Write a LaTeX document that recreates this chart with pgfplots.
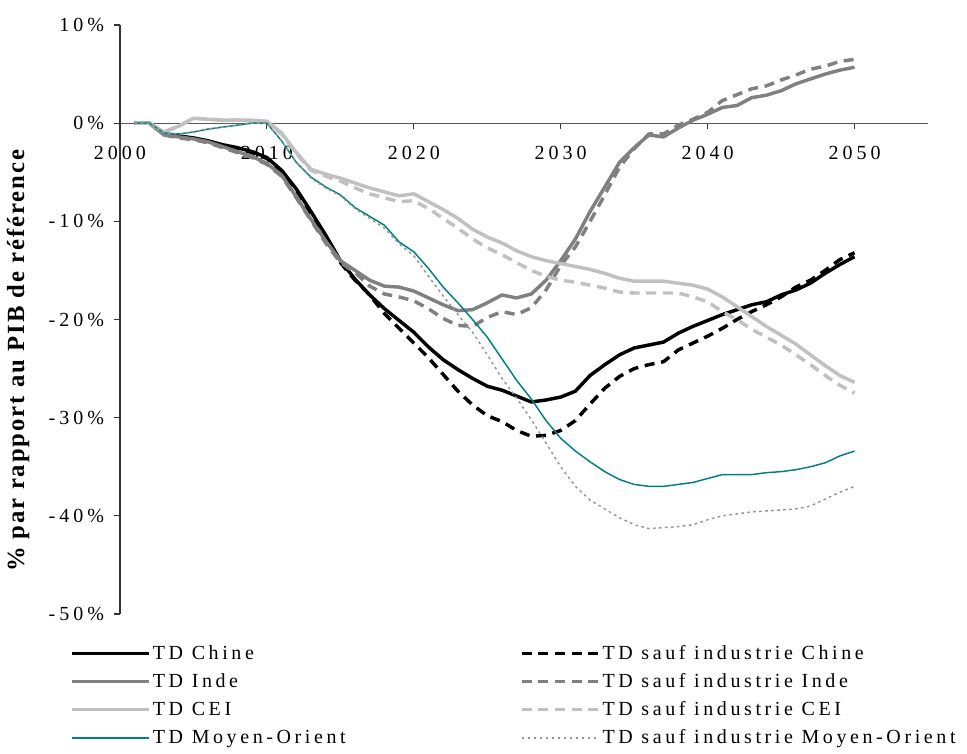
\documentclass[border=0pt]{standalone}
\usepackage{pgfplots}
\pgfplotsset{compat=1.18}
\usepackage{pgfplotstable}
\usepackage{fontspec}
\setmainfont{Liberation Serif}
\newfontfamily\tickfont[LetterSpace=20]{Liberation Serif}
\newfontfamily\legfont[LetterSpace=18]{Liberation Serif}
\newfontfamily\labfont[LetterSpace=8]{Liberation Serif}
\definecolor{cChine}{RGB}{0,0,0}
\definecolor{cInde}{RGB}{128,128,128}
\definecolor{cCEI}{RGB}{192,192,192}
\definecolor{cMO}{RGB}{0,128,128}
\definecolor{cMOs}{RGB}{150,150,150}
\pgfplotstableread{
year chine chineS inde indeS cei ceiS mo moS
2001 0 0 0 0 0 0 0 0
2002 0 0 0 0 0 0 0 0
2003 -1.1 -1.1 -1.2 -1.2 -0.9 -0.9 -1.0 -1.0
2004 -1.3 -1.4 -1.4 -1.5 -0.3 -0.3 -1.1 -1.1
2005 -1.5 -1.6 -1.6 -1.7 0.5 0.5 -0.9 -0.9
2006 -1.8 -1.9 -1.9 -2.0 0.4 0.4 -0.6 -0.6
2007 -2.2 -2.3 -2.4 -2.5 0.3 0.3 -0.4 -0.4
2008 -2.5 -2.6 -2.9 -3.0 0.3 0.3 -0.2 -0.2
2009 -2.9 -3.0 -3.4 -3.5 0.3 0.2 0.0 0.0
2010 -3.5 -3.6 -4.1 -4.2 0.2 0.1 0.0 0.0
2011 -4.8 -4.9 -5.3 -5.4 -1.0 -1.1 -1.8 -1.8
2012 -6.7 -6.8 -7.5 -7.6 -3.0 -3.1 -4.0 -4.0
2013 -9.0 -9.2 -9.8 -9.9 -4.7 -4.8 -5.5 -5.6
2014 -11.4 -11.6 -12.0 -12.2 -5.2 -5.4 -6.5 -6.6
2015 -14.0 -14.2 -14.0 -14.2 -5.6 -5.9 -7.3 -7.4
2016 -15.9 -16.0 -15.0 -15.2 -6.1 -6.6 -8.6 -8.7
2017 -17.5 -17.5 -16.0 -16.6 -6.6 -7.2 -9.5 -9.7
2018 -18.9 -19.4 -16.6 -17.4 -7.0 -7.6 -10.4 -10.7
2019 -20.1 -20.9 -16.7 -17.7 -7.4 -8.0 -12.1 -12.3
2020 -21.3 -22.4 -17.1 -18.1 -7.2 -7.9 -13.1 -13.5
2021 -22.8 -23.9 -17.8 -18.9 -8.0 -8.7 -14.8 -15.6
2022 -24.1 -25.6 -18.5 -19.9 -8.8 -9.7 -16.7 -17.6
2023 -25.1 -27.3 -19.1 -20.6 -9.7 -10.7 -18.3 -19.5
2024 -26.0 -28.7 -19.0 -20.7 -10.8 -11.8 -20.0 -21.3
2025 -26.8 -29.8 -18.3 -19.8 -11.6 -12.7 -21.8 -23.6
2026 -27.2 -30.4 -17.5 -19.2 -12.2 -13.4 -24.0 -26.0
2027 -27.8 -31.3 -17.8 -19.5 -13.0 -14.2 -26.2 -28.0
2028 -28.4 -31.9 -17.4 -18.8 -13.6 -15.0 -28.1 -30.2
2029 -28.2 -31.8 -16.0 -17.0 -14.0 -15.6 -30.3 -32.6
2030 -27.9 -31.3 -14.0 -14.5 -14.3 -16.0 -32.1 -35.0
2031 -27.3 -30.3 -11.8 -12.6 -14.6 -16.2 -33.4 -37.0
2032 -25.7 -28.6 -9.0 -10.0 -14.9 -16.5 -34.5 -38.4
2033 -24.6 -27.0 -6.5 -7.3 -15.3 -16.8 -35.5 -39.3
2034 -23.6 -25.8 -4.0 -4.5 -15.8 -17.2 -36.3 -40.2
2035 -22.9 -25.0 -2.5 -2.6 -16.1 -17.3 -36.8 -40.9
2036 -22.6 -24.6 -1.2 -1.1 -16.1 -17.3 -37.0 -41.3
2037 -22.3 -24.3 -1.4 -1.1 -16.1 -17.3 -37.0 -41.2
2038 -21.4 -23.1 -0.5 -0.2 -16.3 -17.3 -36.8 -41.1
2039 -20.7 -22.4 0.3 0.4 -16.5 -17.7 -36.6 -40.9
2040 -20.1 -21.7 0.9 1.1 -16.9 -18.2 -36.2 -40.4
2041 -19.5 -20.9 1.6 2.3 -17.7 -19.2 -35.8 -40.0
2042 -19.0 -20.0 1.8 2.9 -18.7 -20.0 -35.8 -39.8
2043 -18.5 -19.2 2.6 3.5 -19.7 -21.0 -35.8 -39.6
2044 -18.2 -18.5 2.85 3.8 -20.7 -21.8 -35.6 -39.5
2045 -17.5 -17.7 3.3 4.4 -21.6 -22.6 -35.5 -39.4
2046 -17.0 -16.7 4.0 4.9 -22.5 -23.6 -35.3 -39.3
2047 -16.3 -16.0 4.5 5.5 -23.6 -24.6 -35.0 -39.0
2048 -15.3 -15.0 5.0 5.8 -24.7 -25.7 -34.6 -38.3
2049 -14.4 -13.9 5.4 6.3 -25.7 -26.7 -33.9 -37.6
2050 -13.6 -13.2 5.7 6.5 -26.4 -27.5 -33.4 -37.0
}\data
\begin{document}
\begin{tikzpicture}
\begin{axis}[
  name=ax,
  scale only axis,
  width=606pt, height=441.75pt,
  xmin=2000, xmax=2055, ymin=-50, ymax=10,
  axis x line=middle, axis y line=left,
  x axis line style={-, draw=black!65, line width=0.8pt},
  y axis line style={-, draw=black!80, line width=0.8pt},
  xtick={2000,2010,2020,2030,2040,2050},
  xticklabels={2000,2010,2020,2030,2040,2050},
  ytick={-50,-40,-30,-20,-10,0,10},
  yticklabels={-50\%,-40\%,-30\%,-20\%,-10\%,0\%,10\%},
  hide obscured y ticks=false,
  hide obscured x ticks=false,
  tick align=outside,
  xtick align=outside,
  major tick length=4.5pt,
  tick style={black!80, line width=0.8pt},
  xticklabel style={font=\tickfont\fontsize{15}{17}\selectfont, yshift=-9pt},
  yticklabel style={font=\tickfont\fontsize{15}{17}\selectfont, xshift=-4pt},
  ylabel={\labfont\bfseries\fontsize{18.5}{20}\selectfont \% par rapport au PIB de référence},
  ylabel style={at={(axis description cs:-0.126,0.43)}, anchor=center},
  legend columns=2,
  legend cell align=left,
  legend style={at={(axis description cs:-0.067,-0.044)}, anchor=north west,
    draw=none, fill=none, font=\legfont\fontsize{15}{17}\selectfont,
    row sep=5pt,
    nodes={inner xsep=1.5pt},
    /tikz/every even column/.append style={column sep=129pt}},
  legend image code/.code={\draw[#1] (0pt,0pt) -- (58pt,0pt);},
  line join=round,
]
\addplot[cChine, line width=2.6pt] table[x=year, y=chine] {\data};
\addlegendentry{TD Chine}
\addplot[cChine, line width=2.6pt, dash pattern=on 7.5pt off 5pt] table[x=year, y=chineS] {\data};
\addlegendentry{TD sauf industrie Chine}
\addplot[cInde, line width=2.6pt] table[x=year, y=inde] {\data};
\addlegendentry{TD Inde}
\addplot[cInde, line width=2.6pt, dash pattern=on 7.5pt off 5pt] table[x=year, y=indeS] {\data};
\addlegendentry{TD sauf industrie Inde}
\addplot[cCEI, line width=2.6pt] table[x=year, y=cei] {\data};
\addlegendentry{TD CEI}
\addplot[cCEI, line width=2.6pt, dash pattern=on 7.5pt off 5pt] table[x=year, y=ceiS] {\data};
\addlegendentry{TD sauf industrie CEI}
\addplot[cMO, line width=1.1pt] table[x=year, y=mo] {\data};
\addlegendentry{TD Moyen-Orient}
\addplot[cMOs, line width=1.1pt, dash pattern=on 2pt off 2.5pt] table[x=year, y=moS] {\data};
\addlegendentry{TD sauf industrie Moyen-Orient}
\end{axis}
\pgfresetboundingbox
\path ([shift={(-90pt,-104.25pt)}]ax.south west) rectangle ([shift={(635.25pt,460.5pt)}]ax.south west);
\end{tikzpicture}
\end{document}
